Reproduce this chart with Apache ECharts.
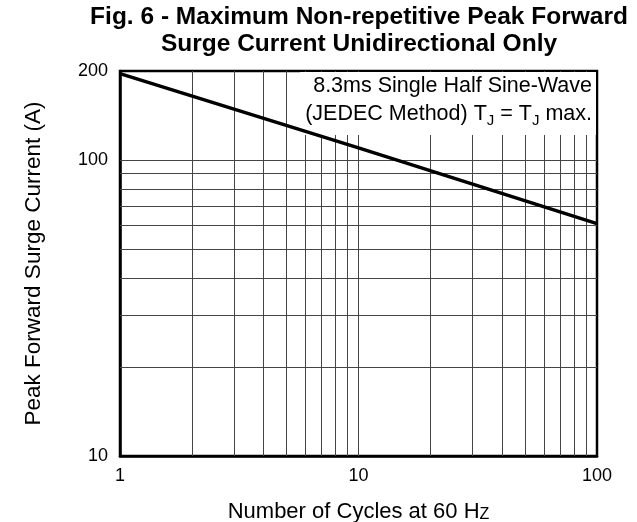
<!DOCTYPE html>
<html>
<head>
<meta charset="utf-8">
<script src="https://cdn.jsdelivr.net/npm/echarts@6/dist/echarts.min.js"></script>
<style>html,body{margin:0;padding:0;background:#fff}#c{width:637px;height:522px}</style>
</head>
<body>
<div id="c"></div>
<script>
// Data
const cycles = [1, 10, 100];
const surgeCurrent = [196, 110, 61];
const xTicks = [1, 10, 100];
const yTicks = [10, 100, 200];
const xGrid = [2, 3, 4, 5, 6, 7, 8, 9, 10, 20, 30, 40, 50, 60, 70, 80, 90];
const yGrid = [20, 30, 40, 50, 60, 70, 80, 90, 100];

const font = '"Liberation Sans", Arial, sans-serif';
const chart = echarts.init(document.getElementById('c'), null, {renderer: 'canvas'});

const gridLines = [];
xGrid.forEach(v => gridLines.push([{coord: [v, 10]}, {coord: [v, 200]}]));
yGrid.forEach(v => gridLines.push([{coord: [1, v]}, {coord: [100, v]}]));

chart.setOption({
  animation: false,
  backgroundColor: '#fff',
  title: {
    text: 'Fig. 6 - Maximum Non-repetitive Peak Forward\nSurge Current Unidirectional Only',
    left: 359, top: 4, padding: 0, textAlign: 'center',
    textStyle: {fontFamily: font, fontWeight: 'bold', fontSize: 24.5, lineHeight: 27, color: '#000'}
  },
  grid: {left: 120, right: 40, top: 71, bottom: 66, outerBoundsMode: 'none', containLabel: false,
    show: true, borderColor: '#000', borderWidth: 2.5, backgroundColor: 'transparent'},
  xAxis: {
    type: 'log', logBase: 10, min: 1, max: 100,
    axisLine: {show: true, lineStyle: {color: '#000', width: 2.5}},
    axisTick: {show: false},
    splitLine: {show: false},
    axisLabel: {customValues: xTicks, fontFamily: font, fontSize: 18, color: '#000', margin: 11},
    name: 'Number of Cycles at 60 H{s|Z}',
    nameLocation: 'middle', nameGap: 44,
    nameTextStyle: {fontFamily: font, fontSize: 22, color: '#000',
      rich: {s: {fontFamily: font, fontSize: 16, color: '#000', verticalAlign: 'bottom', padding: [7, 0, 0, 0]}}}
  },
  yAxis: {
    type: 'log', logBase: 10, min: 10, max: 200,
    axisLine: {show: true, lineStyle: {color: '#000', width: 2.5}},
    axisTick: {show: false},
    splitLine: {show: false},
    axisLabel: {customValues: yTicks, fontFamily: font, fontSize: 18, color: '#000', margin: 12},
    name: 'Peak Forward Surge Current (A)',
    nameLocation: 'middle', nameGap: 75, nameRotate: 90,
    nameTextStyle: {fontFamily: font, fontSize: 22.5, color: '#000'}
  },
  graphic: [
    {type: 'rect', z: 3, shape: {x: 300, y: 72, width: 296, height: 63}, style: {fill: '#fff'}},
    {type: 'text', z: 4, x: 592, y: 72, style: {
      text: '8.3ms Single Half Sine-Wave\n(JEDEC Method) T{s|J} = T{s|J} max.',
      align: 'right', font: '21.5px ' + font, fill: '#000', lineHeight: 28,
      rich: {s: {font: '15px ' + font, fill: '#000', verticalAlign: 'bottom', padding: [8, 0, 0, 0]}}
    }}
  ],
  series: [
    {
      type: 'line', data: [], z: 1, silent: true,
      markLine: {z: 1, silent: true, symbol: 'none', label: {show: false},
        lineStyle: {color: '#444', width: 1, type: 'solid'}, data: gridLines}
    },
    {
      type: 'line', z: 10, showSymbol: false, symbol: 'none',
      data: cycles.map((c, i) => [c, surgeCurrent[i]]),
      lineStyle: {color: '#000', width: 3.5}
    }
  ]
});
</script>
</body>
</html>
